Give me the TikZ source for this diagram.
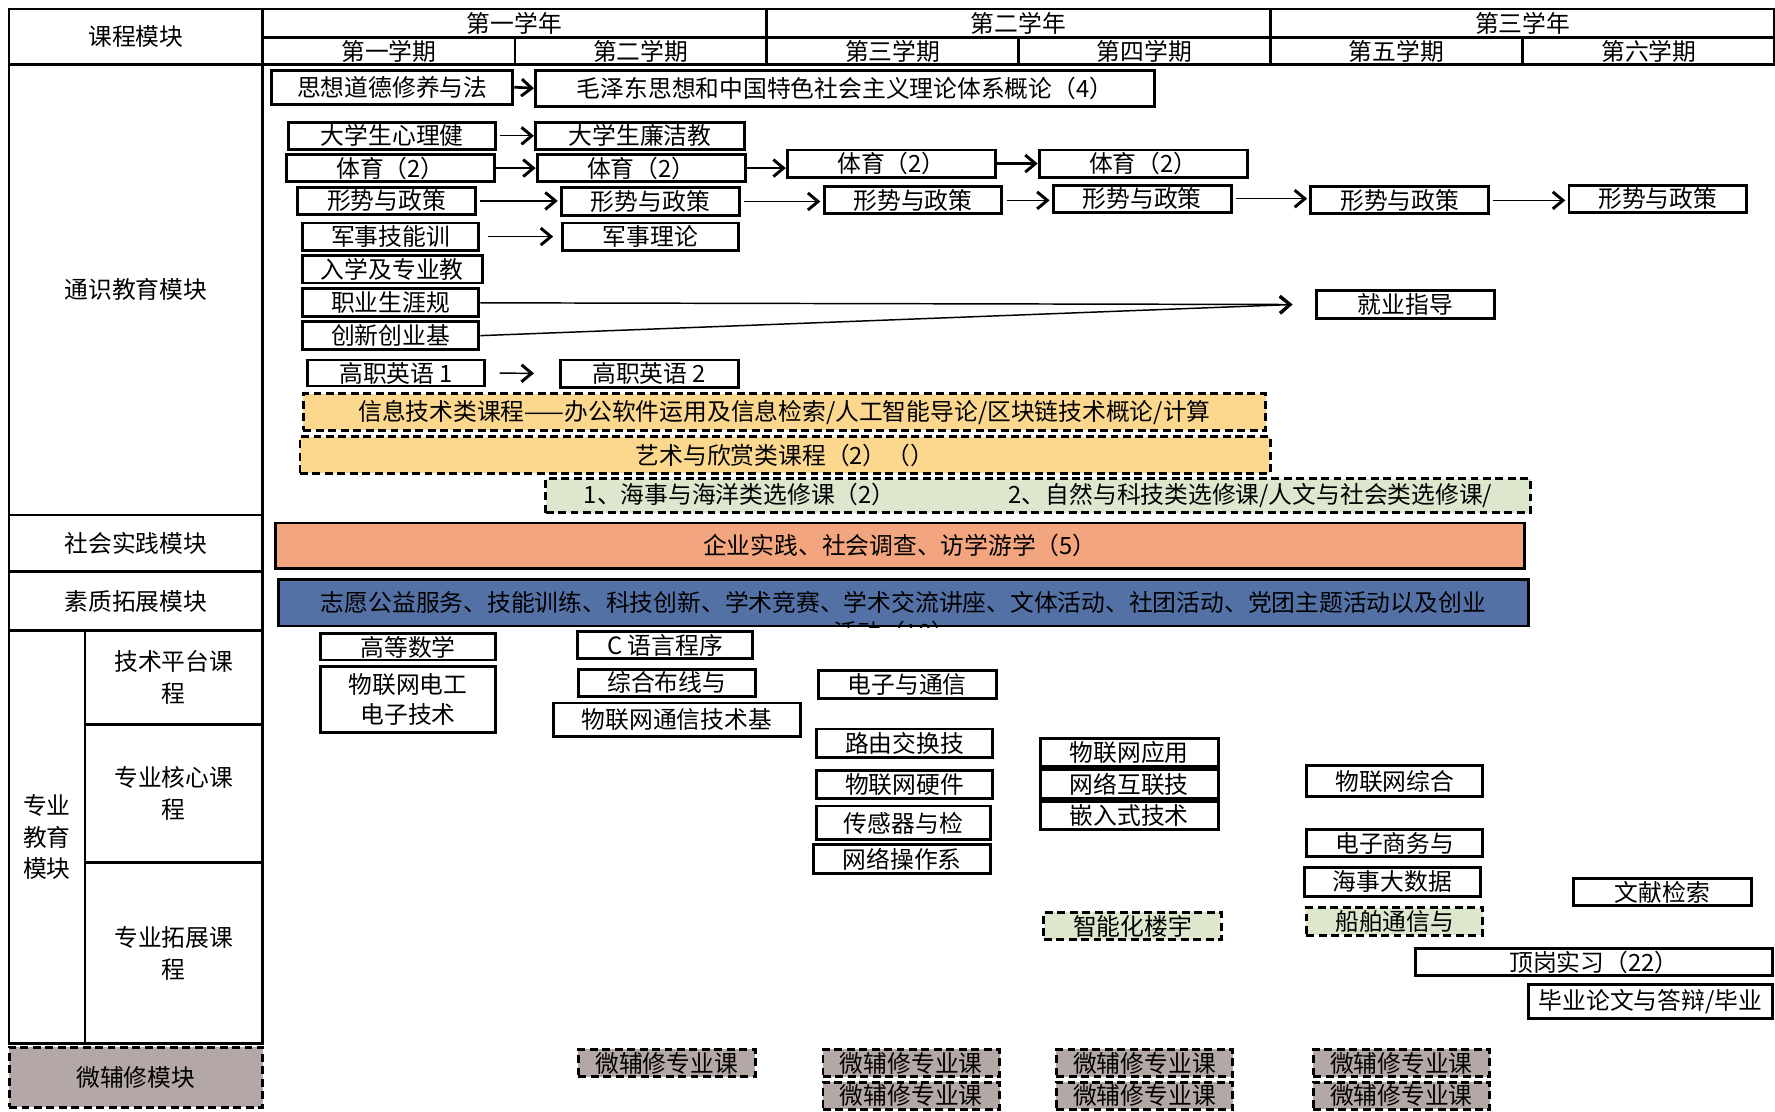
\documentclass[tikz,border=0pt]{standalone}
\usepackage{fontspec}
\setmainfont{Noto Sans CJK SC}
\usepackage{tikz}
\usetikzlibrary{arrows.meta}
\usepackage{xcolor}

\definecolor{infoyel}{RGB}{252,216,142}
\definecolor{electgrn}{RGB}{221,231,206}
\definecolor{practor}{RGB}{242,165,126}
\definecolor{qualblu}{RGB}{84,113,166}
\definecolor{minorgr}{RGB}{180,168,166}

\tikzset{
  gridcell/.style={draw, line width=2.2pt, inner sep=0pt, align=center, font=\fontsize{21}{28}\selectfont},
  course/.style={draw, line width=2.6pt, inner sep=0pt, align=center, font=\fontsize{21}{27}\selectfont},
  dashbox/.style={course, dash pattern=on 7pt off 4pt},
  flow/.style={line width=1.3pt, -{Straight Barb[length=9pt,width=15pt,line width=2.6pt]}},
  flowthick/.style={flow, line width=2.4pt}
}

\begin{document}
\begin{tikzpicture}[x=1pt,y=-1pt]
        \useasboundingbox (0,0) rectangle (1568,982);
        % header
        \node[gridcell, minimum width=224, minimum height=49] (head) at (120,32.5) {课程模块};
        \foreach \n/\x/\t in {yr1/454.5/第一学年, yr2/899.5/第二学年, yr3/1345/第三学年}
            \node[gridcell, minimum width=445, minimum height=25] (\n) at (\x,20.5) {\t};
        \foreach \n/\x/\t in {sem1/343.5/第一学期, sem2/566/第二学期, sem3/788.5/第三学期, sem4/1011/第四学期, sem5/1233.5/第五学期, sem6/1456.5/第六学期}
            \node[gridcell, minimum width=222.5, minimum height=24] (\n) at (\x,45) {\t};
        % module column
        \node[gridcell, minimum width=224, minimum height=398] (tongshi) at (120,256) {通识教育模块};
        \node[gridcell, minimum width=224, minimum height=50] (shehui) at (120,480) {社会实践模块};
        \node[gridcell, minimum width=224, minimum height=52] (suzhi) at (120,531) {素质拓展模块};
        \node[gridcell, minimum width=67, minimum height=365] (zhuanye) at (41.5,739.5) {专业\\教育\\模块};
        \node[gridcell, minimum width=157, minimum height=83] (pingtai) at (153.5,598.5) {技术平台课\\程};
        \node[gridcell, minimum width=157, minimum height=122] (hexin) at (153.5,701) {专业核心课\\程};
        \node[gridcell, minimum width=157, minimum height=160] (tuozhan) at (153.5,842) {专业拓展课\\程};
        \node[dashbox, fill=minorgr, minimum width=224, minimum height=53] (weifu) at (120,951.5) {微辅修模块};

        % general education
        \node[course, minimum width=213, minimum height=30] (sx) at (346.5,77) {思想道德修养与法};
        \node[course, minimum width=547, minimum height=32] (mao) at (746.5,78) {毛泽东思想和中国特色社会主义理论体系概论（4）};
        \node[course, minimum width=183, minimum height=24] (xl) at (346.5,120) {大学生心理健};
        \node[course, minimum width=185, minimum height=24] (lj) at (565.5,120) {大学生廉洁教};
        \foreach \n/\x/\y in {ty1/345/148.5, ty2/566.5/148.5, ty3/787.5/144.5, ty4/1010/144.5}
            \node[course, minimum width=184, minimum height=24] (\n) at (\x,\y) {体育（2）};
        \foreach \n/\x/\y in {xs1/341.5/177.5, xs2/574.5/178, xs3/806.5/177, xs4/1009/175.5, xs5/1236.5/177, xs6/1464.5/175.5}
            \node[course, minimum width=157, minimum height=24] (\n) at (\x,\y) {形势与政策};
        \node[course, minimum width=156, minimum height=24] (js1) at (345,209) {军事技能训};
        \node[course, minimum width=155, minimum height=24] (js2) at (574.5,209) {军事理论};
        \node[course, minimum width=159, minimum height=24] (rx) at (346.5,238) {入学及专业教};
        \node[course, minimum width=156, minimum height=25] (zy) at (345,267.5) {职业生涯规};
        \node[course, minimum width=156, minimum height=25] (cx) at (345,296.5) {创新创业基};
        \node[course, minimum width=157, minimum height=24] (jyzd) at (1241.5,269) {就业指导};
        \node[course, minimum width=156, minimum height=23] (en1) at (350,329.5) {高职英语 1};
        \node[course, minimum width=157, minimum height=24] (en2) at (573.5,330) {高职英语 2};
        \node[dashbox, fill=infoyel, minimum width=850, minimum height=32] (info) at (693,364) {信息技术类课程——办公软件运用及信息检索/人工智能导论/区块链技术概论/计算};
        \node[dashbox, fill=infoyel, minimum width=857, minimum height=32] (art) at (693.5,402) {艺术与欣赏类课程（2）（）};
        \node[dashbox, fill=electgrn, minimum width=870, minimum height=30] (elect) at (917,438) {1、海事与海洋类选修课（2）\hspace{100pt}2、自然与科技类选修课/人文与社会类选修课/};

        % practice and quality
        \node[course, fill=practor, minimum width=1104, minimum height=40] (prac) at (795,482) {企业实践、社会调查、访学游学（5）};
        \node[course, fill=qualblu, minimum width=1104, minimum height=41] (qual) at (798,532.5) {志愿公益服务、技能训练、科技创新、学术竞赛、学术交流讲座、文体活动、社团活动、党团主题活动以及创业};
        \begin{scope}
            \clip (qual.north west) rectangle (qual.south east);
            \node[font=\fontsize{21}{27}\selectfont] (qualrest) at (790,559) {活动（10）};
        \end{scope}

        % professional education
        \node[course, minimum width=155, minimum height=23] (gs) at (360.5,571.5) {高等数学};
        \node[course, minimum width=155, minimum height=58] (wd) at (360.5,618) {物联网电工\\电子技术};
        \node[course, minimum width=155, minimum height=24] (cy) at (587.5,570) {C 语言程序};
        \node[course, minimum width=156, minimum height=24] (zh) at (589,603) {综合布线与};
        \node[course, minimum width=218, minimum height=30] (tx) at (598,636) {物联网通信技术基};
        \node[course, minimum width=157, minimum height=25] (dz) at (801.5,604.5) {电子与通信};
        \node[course, minimum width=156, minimum height=25] (ly) at (799,656.5) {路由交换技};
        \node[course, minimum width=156, minimum height=24] (yj) at (799,693) {物联网硬件};
        \node[course, minimum width=154, minimum height=30] (cg) at (798,727) {传感器与检};
        \node[course, minimum width=156, minimum height=26] (cz) at (797,759) {网络操作系};
        \node[course, minimum width=157, minimum height=25] (yy) at (997.5,664.5) {物联网应用};
        \node[course, minimum width=157, minimum height=25] (hl) at (997.5,692.5) {网络互联技};
        \node[course, minimum width=157, minimum height=25] (qr) at (997.5,720.5) {嵌入式技术};
        \node[dashbox, fill=electgrn, minimum width=157, minimum height=24] (zn) at (1000.5,818) {智能化楼宇};
        \node[course, minimum width=156, minimum height=28] (zonghe) at (1232,690) {物联网综合};
        \node[course, minimum width=156, minimum height=24] (ds) at (1232,745) {电子商务与};
        \node[course, minimum width=156, minimum height=26] (hs) at (1230,779) {海事大数据};
        \node[dashbox, fill=electgrn, minimum width=156, minimum height=24] (cb) at (1232,814) {船舶通信与};
        \node[course, minimum width=157, minimum height=24] (wx) at (1468.5,788) {文献检索};
        \node[course, minimum width=316, minimum height=24] (dg) at (1408,850) {顶岗实习（22）};
        \node[course, minimum width=216, minimum height=30] (by) at (1458,885) {毕业论文与答辩/毕业};

        % minor
        \foreach \n/\x/\y in {wf1/589/939, wf2/805/939, wf3/805/968, wf4/1011/939, wf5/1011/968, wf6/1238/939, wf7/1238/968}
            \node[dashbox, fill=minorgr, minimum width=156, minimum height=24] (\n) at (\x,\y) {微辅修专业课};

        % arrows
        \draw[flowthick] (sx.east) -- (mao.west);
        \draw[flow, line width=0.9pt, shorten <=2pt] (xl.east) -- (lj.west);
        \foreach \a/\b in {ty1/ty2, ty2/ty3, ty3/ty4}
            \draw[flowthick] (\a.east) -- (\a.east -| \b.west);
        \foreach \a/\b in {xs1/xs2, xs2/xs3, xs3/xs4, xs4/xs5, xs5/xs6}
            \draw[flow, shorten <=3pt, shorten >=2pt] (\a.east) -- (\a.east -| \b.west);
        \draw[flow, shorten <=7pt, shorten >=7pt] (js1.east) -- (js2.west);
        \coordinate (jytip) at ([xshift=-20pt]jyzd.west);
        \draw[flow] (zy.east) -- (jytip);
        \draw[flow] (cx.east) -- (jytip);
        \draw[flow, shorten <=12pt, shorten >=22pt] (en1.east) -- (en2.west);
    \end{tikzpicture}
\end{document}
